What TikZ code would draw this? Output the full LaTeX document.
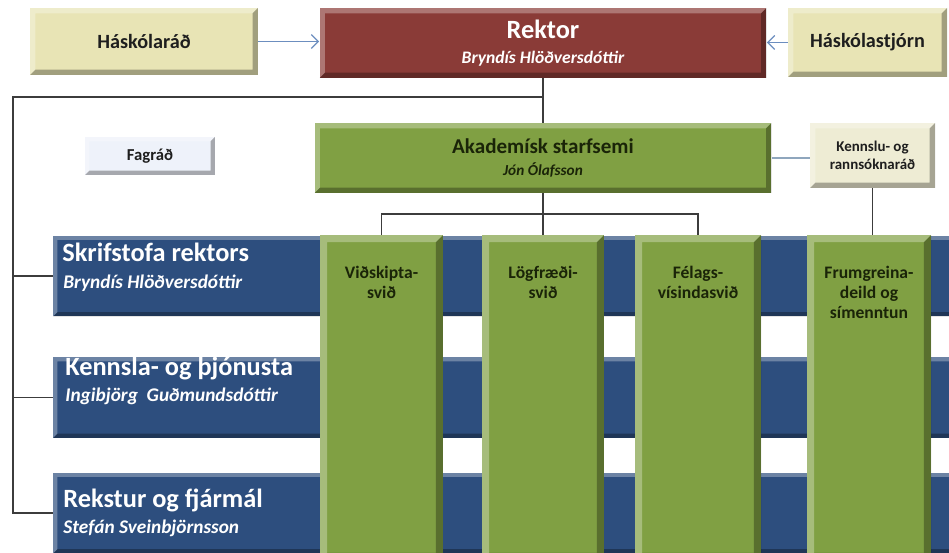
\documentclass[tikz,border=0pt]{standalone}
\usepackage{fontspec}
\setmainfont{Carlito}
\usetikzlibrary{calc,arrows.meta}

\definecolor{rektorred}{HTML}{8A3B37}
\definecolor{boardtan}{HTML}{E8E4B5}
\definecolor{councilcream}{HTML}{EEECD4}
\definecolor{palefill}{HTML}{EEF2FA}
\definecolor{schoolgreen}{HTML}{80A043}
\definecolor{officeblue}{HTML}{2D4E7E}
\definecolor{textdark}{HTML}{1E1E1E}
\definecolor{greentext}{HTML}{1A2408}
\definecolor{linegray}{HTML}{3C3C3C}
\definecolor{arrowblue}{HTML}{6C8EBF}
\definecolor{softline}{HTML}{8FA6BD}

\tikzset{
  bevel/.style={path picture={
    \fill[white, opacity=.3] (path picture bounding box.south west) -- (path picture bounding box.north west) -- (path picture bounding box.north east) -- ([xshift=-#1,yshift=-#1]path picture bounding box.north east) -- ([xshift=#1,yshift=-#1]path picture bounding box.north west) -- ([xshift=#1,yshift=#1]path picture bounding box.south west) -- cycle;
    \fill[black, opacity=.3] (path picture bounding box.south west) -- (path picture bounding box.south east) -- (path picture bounding box.north east) -- ([xshift=-#1,yshift=-#1]path picture bounding box.north east) -- ([xshift=-#1,yshift=#1]path picture bounding box.south east) -- ([xshift=#1,yshift=#1]path picture bounding box.south west) -- cycle;
  }},
  bevel/.default=3pt,
  tanbox/.style={rectangle, fill=boardtan, bevel, text=textdark, font=\bfseries\fontsize{11.5}{13}\selectfont},
  redbox/.style={rectangle, fill=rektorred, bevel, text=white, align=center, font=\bfseries\fontsize{15}{14}\selectfont},
  greenbox/.style={rectangle, fill=schoolgreen, bevel, text=greentext, align=center, font=\bfseries\fontsize{12}{12}\selectfont},
  creambox/.style={rectangle, fill=councilcream, bevel, text=textdark, align=center, font=\bfseries\fontsize{8.5}{10.5}\selectfont},
  palebox/.style={rectangle, fill=palefill, bevel=2.5pt, text=textdark, font=\bfseries\fontsize{9.5}{11}\selectfont},
  bandbox/.style={rectangle, fill=officeblue, bevel=2.5pt},
  bandtitle/.style={anchor=base west, inner sep=0pt, text=white, font=\bfseries\fontsize{15}{17}\selectfont},
  bandname/.style={anchor=base west, inner sep=0pt, text=white, font=\bfseries\itshape\fontsize{11}{13}\selectfont},
  colbox/.style={rectangle, fill=schoolgreen, bevel=4pt, minimum height=6.5cm},
  coltext/.style={anchor=north, yshift=-18pt, inner sep=0pt, align=center, text=greentext, font=\bfseries\fontsize{10}{11.3}\selectfont},
  conn/.style={draw=linegray, line width=0.6pt},
  softconn/.style={draw=softline, line width=0.8pt},
  arr/.style={draw=arrowblue, line width=0.7pt, -{Straight Barb[length=4pt,width=8pt]}}
}

\begin{document}
\begin{tikzpicture}[x=0.02cm, y=-0.02cm]
\useasboundingbox (0,0) rectangle (949,553);
\clip (0,0) rectangle (949,553);

% top row
\node[tanbox, minimum width=4.56cm, minimum height=1.34cm] (haskolarad) at (144,41.5) {Háskólaráð};
\node[redbox, minimum width=8.94cm, minimum height=1.40cm] (rektor) at (543,43) {Rektor\\{\fontsize{10}{12}\selectfont\itshape Bryndís Hlöðversdóttir}};
\node[tanbox, minimum width=3.18cm, minimum height=1.38cm] (haskolastjorn) at (867.5,42.5) {Háskólastjórn};

% second row
\node[palebox, minimum width=2.6cm, minimum height=0.76cm] (fagrad) at (150,156) {Fagráð};
\node[greenbox, minimum width=9.14cm, minimum height=1.40cm] (akademisk) at (543,158) {Akademísk starfsemi\\{\fontsize{8.7}{10}\selectfont\itshape Jón Ólafsson}};
\node[creambox, minimum width=2.5cm, minimum height=1.3cm] (kennslurad) at (872.5,155.5) {Kennslu- og\\rannsóknaráð};

% blue bands
\foreach \name/\y in {skrifstofa/276, kennsla/397.5, rekstur/513}
  \node[bandbox, minimum width=18.14cm, minimum height=1.62cm] (\name) at (506.5,\y) {};

\node[bandtitle] (skrifstofaT) at (62,262) {Skrifstofa rektors};
\node[bandname] (skrifstofaN) at (63,289) {Bryndís Hlöðversdóttir};
\node[bandtitle] (kennslaT) at (65,376) {Kennsla- og þjónusta};
\node[bandname] (kennslaN) at (65,401) {Ingibjörg\ \ Guðmundsdóttir};
\node[bandtitle] (reksturT) at (63,507) {Rekstur og fjármál};
\node[bandname] (reksturN) at (63,533) {Stefán Sveinbjörnsson};

% green columns
\node[colbox, minimum width=2.46cm, label={[coltext]north:Viðskipta-\\svið}] (vidskipta) at (381.5,397.5) {};
\node[colbox, minimum width=2.44cm, label={[coltext]north:Lögfræði-\\svið}] (logfraedi) at (543,397.5) {};
\node[colbox, minimum width=2.52cm, label={[coltext]north:Félags-\\vísindasvið}] (felags) at (698,397.5) {};
\node[colbox, minimum width=2.48cm, label={[coltext]north:Frumgreina-\\deild og\\símenntun}] (frumgreina) at (869,397.5) {};

% connectors
\draw[arr] (haskolarad.east) -- (haskolarad.east -| rektor.west);
\draw[arr] (haskolastjorn.west) -- (haskolastjorn.west -| rektor.east);

\coordinate (trunktop) at (13,97);
\draw[conn] (rektor.south) -- (akademisk.north);
\draw[conn] (rektor.south |- trunktop) -- (trunktop) -- (trunktop |- rekstur.west) -- (rekstur.west);
\draw[conn] (trunktop |- skrifstofa.west) -- (skrifstofa.west);
\draw[conn] (trunktop |- kennsla.west) -- (kennsla.west);

\coordinate (akadbar) at ($(akademisk.south)!.5!(logfraedi.north)$);
\draw[conn] (akademisk.south) -- (logfraedi.north);
\draw[conn] (vidskipta.north) |- (akadbar) -| (felags.north);

\draw[softconn] (akademisk.east) -- (akademisk.east -| kennslurad.west);
\draw[conn] (kennslurad.south) -- (kennslurad.south |- frumgreina.north);
\end{tikzpicture}
\end{document}
